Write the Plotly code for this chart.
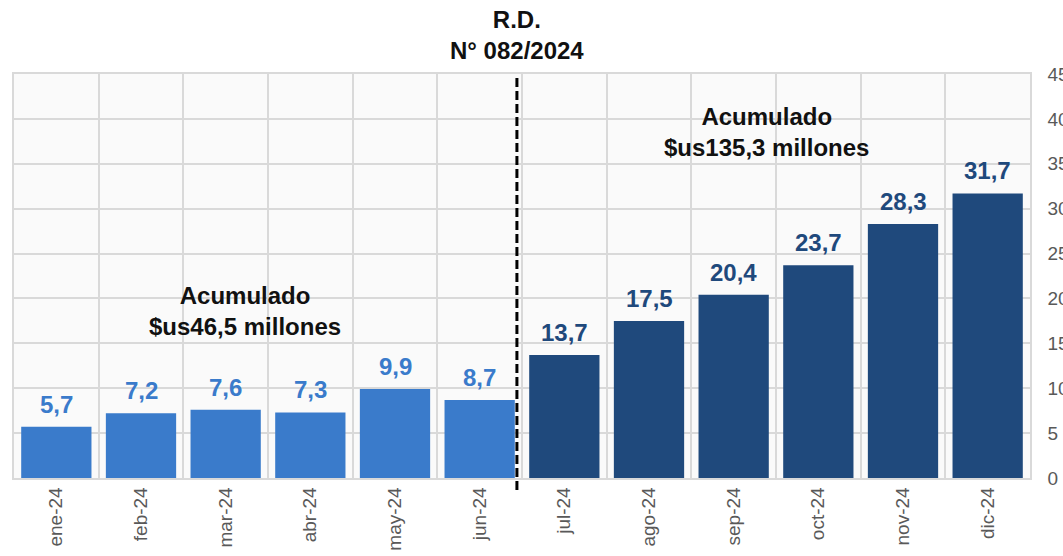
import plotly.graph_objects as go

months = ["ene-24", "feb-24", "mar-24", "abr-24", "may-24", "jun-24",
          "jul-24", "ago-24", "sep-24", "oct-24", "nov-24", "dic-24"]
values = [5.7, 7.2, 7.6, 7.3, 9.9, 8.7, 13.7, 17.5, 20.4, 23.7, 28.3, 31.7]
y_ticks = [0, 5, 10, 15, 20, 25, 30, 35, 40, 45]

LIGHT = "#3a7bcb"
DARK = "#1f497c"
colors = [LIGHT] * 6 + [DARK] * 6
FONT = "Arial, Liberation Sans, sans-serif"

fig = go.Figure()
fig.add_trace(go.Bar(x=months, y=values, marker=dict(color=colors, line=dict(width=0)),
                     hoverinfo="skip"))

for m, v, c in zip(months, values, colors):
    fig.add_annotation(x=m, y=v, text="<b>" + f"{v:.1f}".replace(".", ",") + "</b>",
                       showarrow=False, yanchor="bottom", yshift=7,
                       font=dict(family=FONT, size=24, color=c))

fig.add_shape(type="line", xref="x", yref="paper", x0=5.44, x1=5.44, y0=-0.03, y1=1.0,
              line=dict(color="black", width=3, dash="9px,4px"))

fig.add_annotation(xref="x", yref="paper", x=5.44, y=1.02, yanchor="bottom",
                   text="<b>R.D.<br>N° 082/2024</b>", showarrow=False,
                   font=dict(family=FONT, size=24, color="#111111"))
fig.add_annotation(xref="x", x=2.23, y=18.6, text="<b>Acumulado<br>$us46,5 millones</b>",
                   showarrow=False, font=dict(family=FONT, size=24, color="#111111"))
fig.add_annotation(xref="x", x=8.39, y=38.5, text="<b>Acumulado<br>$us135,3 millones</b>",
                   showarrow=False, font=dict(family=FONT, size=24, color="#111111"))

fig.update_layout(
    width=1063, height=556,
    margin=dict(l=14, r=33, t=74, b=78),
    paper_bgcolor="white", plot_bgcolor="#fafafa",
    bargap=0.17, showlegend=False,
    font=dict(family=FONT),
)
fig.update_xaxes(type="category", tickson="boundaries", showgrid=True,
                 gridcolor="#d9d9d9", gridwidth=1.5, tickangle=-90,
                 ticks="outside", ticklen=10, tickcolor="rgba(0,0,0,0)",
                 tickfont=dict(family=FONT, size=19, color="#595959"),
                 showline=True, linecolor="#d9d9d9", linewidth=1.5, mirror=True,
                 automargin=False, range=[-0.5, 11.5])
fig.update_yaxes(side="right", range=[0, 45], tickvals=y_ticks, showgrid=True,
                 gridcolor="#d9d9d9", gridwidth=1.5, zeroline=False,
                 ticks="outside", ticklen=12, tickcolor="rgba(0,0,0,0)",
                 tickfont=dict(family=FONT, size=19, color="#595959"),
                 showline=True, linecolor="#d9d9d9", linewidth=1.5, mirror=True,
                 automargin=False)

fig.write_html("out.html", config={"displayModeBar": False},
               post_script="document.body.style.margin='0';document.body.style.overflow='hidden';")
